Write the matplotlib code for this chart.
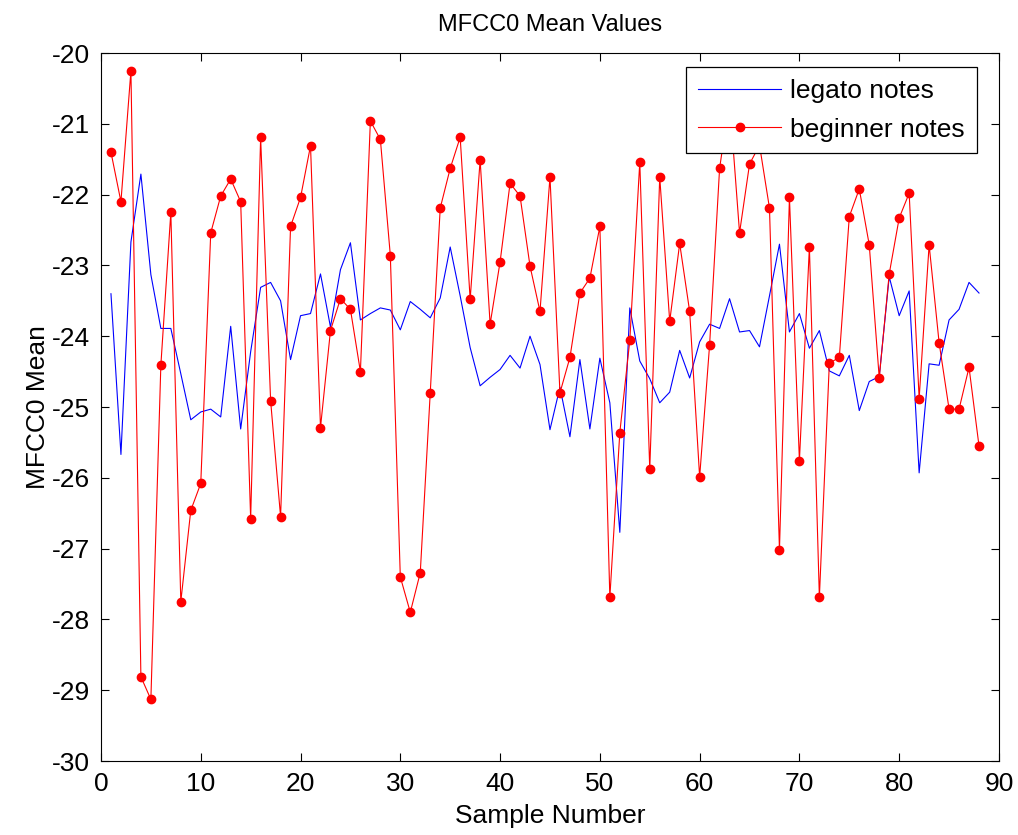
import matplotlib
matplotlib.use("Agg")
import matplotlib.pyplot as plt
import numpy as np

plt.rcParams['font.family'] = ['Liberation Sans', 'DejaVu Sans']
plt.rcParams['axes.unicode_minus'] = False

# sample numbers 1..88
samples = list(range(1, 89))

legato = [
    -23.40, -25.67, -22.67, -21.71, -23.13, -23.89, -23.89, -24.53, -25.18, -25.07,
    -25.03, -25.14, -23.86, -25.31, -24.22, -23.31, -23.24, -23.50, -24.33, -23.71,
    -23.68, -23.12, -23.87, -23.06, -22.68, -23.77, -23.68, -23.60, -23.63, -23.91,
    -23.51, -23.62, -23.74, -23.46, -22.74, -23.43, -24.16, -24.70, -24.58, -24.47,
    -24.27, -24.45, -24.00, -24.40, -25.32, -24.72, -25.42, -24.33, -25.31, -24.31,
    -24.94, -26.77, -23.60, -24.35, -24.60, -24.94, -24.79, -24.20, -24.59, -24.08,
    -23.83, -23.89, -23.47, -23.94, -23.92, -24.15, -23.43, -22.70, -23.94, -23.68,
    -24.17, -23.92, -24.49, -24.56, -24.27, -25.05, -24.64, -24.57, -23.16, -23.71,
    -23.36, -25.93, -24.39, -24.41, -23.77, -23.62, -23.24, -23.39,
]

beginner = [
    -21.40, -22.10, -20.25, -28.81, -29.13, -24.41, -22.25, -27.75, -26.46, -26.08,
    -22.54, -22.02, -21.78, -22.10, -26.58, -21.19, -24.91, -26.55, -22.45, -22.04,
    -21.31, -25.29, -23.92, -23.47, -23.62, -24.50, -20.96, -21.22, -22.86, -27.40,
    -27.90, -27.34, -24.80, -22.19, -21.63, -21.19, -23.48, -21.51, -23.83, -22.95,
    -21.84, -22.02, -23.01, -23.65, -21.75, -24.80, -24.30, -23.39, -23.18, -22.45,
    -27.69, -25.36, -24.06, -21.54, -25.88, -21.75, -23.79, -22.69, -23.65, -25.99,
    -24.12, -21.63, -20.66, -22.54, -21.57, -21.30, -22.19, -27.02, -22.04, -25.76,
    -22.74, -27.69, -24.38, -24.30, -22.31, -21.92, -22.71, -24.59, -23.12, -22.33,
    -21.98, -24.88, -22.71, -24.09, -25.03, -25.03, -24.44, -25.55,
]

fig = plt.figure(figsize=(10.18, 8.35), dpi=100)
ax = fig.add_axes([0.0992, 0.0886, 0.8821, 0.8479])

ax.plot(samples, legato, color='blue', lw=0.8, label='legato notes')
ax.plot(samples, beginner, color='red', lw=0.8, marker='o', markersize=6,
        markeredgecolor='red', markerfacecolor='red', label='beginner notes')

ax.set_xlim(0, 90)
ax.set_ylim(-30, -20)
ax.set_xticks(np.arange(0, 91, 10))
ax.set_yticks(np.arange(-30, -19, 1))
ax.tick_params(direction='in', top=True, right=True, length=6, width=0.8,
               labelsize=19, pad=8)
for s in ax.spines.values():
    s.set_linewidth(0.8)

ax.set_title('MFCC0 Mean Values', fontsize=17, pad=16)
ax.set_xlabel('Sample Number', fontsize=19, labelpad=6)
ax.set_ylabel('MFCC0 Mean', fontsize=19, labelpad=1)

leg = ax.legend(loc='upper right', bbox_to_anchor=(0.9755, 0.980), borderaxespad=0,
                fontsize=19, fancybox=False, framealpha=1, edgecolor='black',
                handlelength=3.15, handletextpad=0.35, borderpad=0.45,
                labelspacing=0.55)
leg.get_frame().set_linewidth(0.9)

fig.savefig('out.png', dpi=100)
